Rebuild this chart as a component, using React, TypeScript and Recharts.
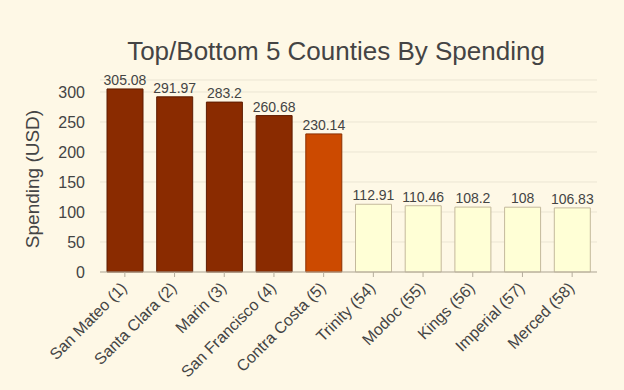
import { BarChart, Bar, XAxis, YAxis, CartesianGrid, Cell, LabelList } from 'recharts';

const counties = [
  'San Mateo (1)', 'Santa Clara (2)', 'Marin (3)', 'San Francisco (4)', 'Contra Costa (5)',
  'Trinity (54)', 'Modoc (55)', 'Kings (56)', 'Imperial (57)', 'Merced (58)',
];
const spending = [305.08, 291.97, 283.2, 260.68, 230.14, 112.91, 110.46, 108.2, 108, 106.83];
const yTicks = [0, 50, 100, 150, 200, 250, 300];

const data = counties.map((name, i) => ({ name, value: spending[i] }));

const FONT = '"Liberation Sans", Arial, sans-serif';
const TEXT = '#444444';

// colour follows the value, like the original sequential scale
function fillFor(v: number) {
  if (v > 250) return '#8a2b00';
  if (v > 200) return '#cc4a00';
  return '#ffffd6';
}
function strokeFor(v: number) {
  if (v > 250) return '#5e1c00';
  if (v > 200) return '#8a3000';
  return '#c4b99c';
}

export default function App() {
  return (
    <div style={{ position: 'fixed', top: 0, left: 0, width: 624, height: 390, background: '#fef8e6', fontFamily: FONT }}>
      <div style={{
        position: 'absolute', top: 38, left: 48, width: 576, textAlign: 'center',
        fontSize: 26, lineHeight: '26px', color: TEXT, fontFamily: FONT,
      }}>
        Top/Bottom 5 Counties By Spending
      </div>
      <BarChart width={624} height={390} data={data} margin={{ top: 80, right: 27, left: 0, bottom: 0 }}>
        <CartesianGrid vertical={false} stroke="#ebe5d3" />
        <XAxis
          dataKey="name"
          interval={0}
          height={118}
          angle={-45}
          textAnchor="end"
          tickSize={5}
          tickMargin={4}
          stroke="#b5ad9c"
          tick={{ fontSize: 16, fill: TEXT, fontFamily: FONT, dx: -5 }}
        />
        <YAxis
          width={100}
          domain={[0, 320]}
          ticks={yTicks}
          axisLine={false}
          tickLine={false}
          tickSize={0}
          tickMargin={15}
          tick={{ fontSize: 16, fill: TEXT, fontFamily: FONT }}
          label={({ viewBox }: any) => (
            <text
              x={viewBox.x + 32}
              y={viewBox.y + viewBox.height / 2 + 3}
              transform={`rotate(-90 ${viewBox.x + 32} ${viewBox.y + viewBox.height / 2 + 3})`}
              textAnchor="middle"
              dominantBaseline="central"
              style={{ fontSize: 19, fill: TEXT, fontFamily: FONT }}
            >
              Spending (USD)
            </text>
          )}
        />
        <Bar dataKey="value" barSize={36} isAnimationActive={false}>
          {data.map((d) => (
            <Cell key={d.name} fill={fillFor(d.value)} stroke={strokeFor(d.value)} strokeWidth={1} />
          ))}
          <LabelList dataKey="value" position="top" offset={4} fill={TEXT} fontSize={14} fontFamily={FONT} />
        </Bar>
      </BarChart>
    </div>
  );
}
